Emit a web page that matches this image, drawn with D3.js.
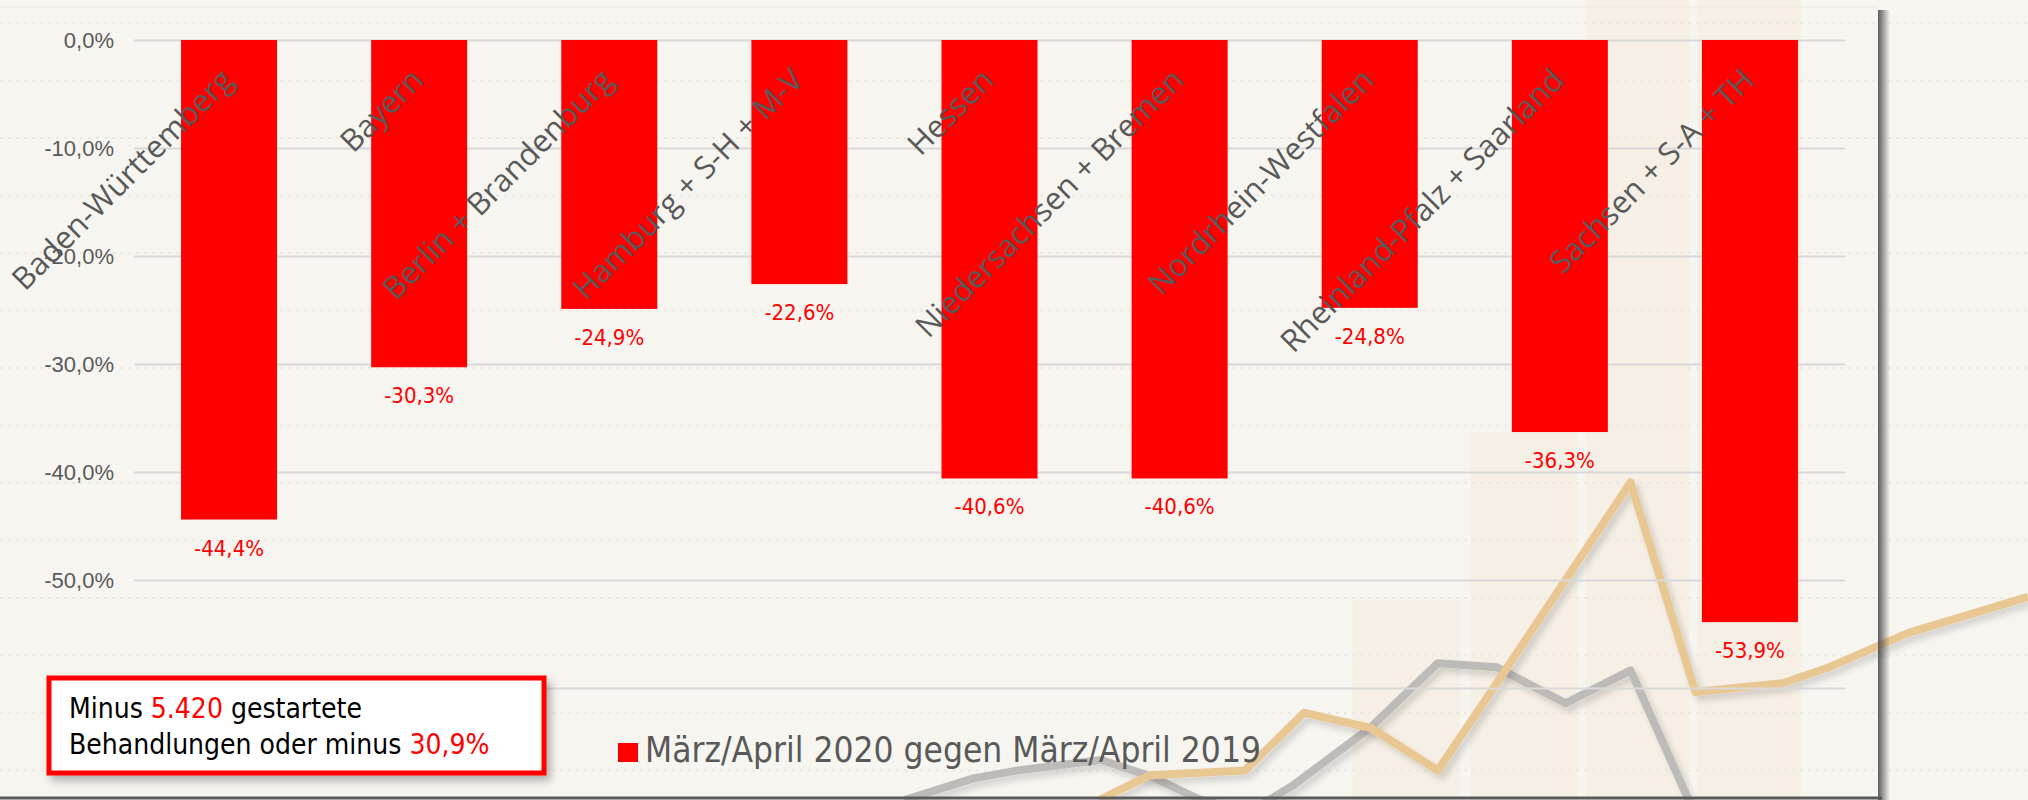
<!DOCTYPE html>
<html>
<head>
<meta charset="utf-8">
<script src="https://cdn.jsdelivr.net/npm/d3@7"></script>
<style>
  body { margin: 0; background: #f6f4ef; }
  svg { display: block; }
</style>
</head>
<body>
<div id="chart"></div>
<script>
// data
var categories = ['Baden-Württemberg', 'Bayern', 'Berlin + Brandenburg', 'Hamburg + S-H + M-V', 'Hessen',
  'Niedersachsen + Bremen', 'Nordrhein-Westfalen', 'Rheinland-Pfalz + Saarland', 'Sachsen + S-A + TH']
var values = [-44.4, -30.3, -24.9, -22.6, -40.6, -40.6, -24.8, -36.3, -53.9]
var gridValues = [0, -10, -20, -30, -40, -50, -60]
var tickLabels = [0, -10, -20, -30, -40, -50]
var seriesName = 'März/April 2020 gegen März/April 2019'
var noteLine1 = [['Minus ', false], ['5.420', true], [' gestartete', false]]
var noteLine2 = [['Behandlungen oder minus ', false], ['30,9%', true]]

// faded background picture (percent of width / height)
var decoColumns = [[66.7, 72.0, 75], [72.5, 77.8, 54], [78.2, 83.3, 0], [83.7, 88.8, 0]]
var decoOrange = [[54.2, 100], [56.7, 96.9], [61.4, 96.3], [64.3, 89.1], [67.6, 91], [70.9, 96.3], [73.8, 85.4],
  [80.4, 60.3], [83.6, 86.5], [87.9, 85.4], [90.2, 83.4], [94.1, 79.1], [100, 74.6]]
var decoGray = [[44.6, 100], [48, 97.3], [50.2, 96.3], [54.3, 95], [56.8, 97.1], [59.2, 100], [61.6, 101.5],
  [63.8, 98.1], [67.6, 90.9], [70.9, 82.9], [73.8, 83.4], [77.2, 87.9], [80.4, 83.8], [83.5, 101.3]]

var W = 2028, H = 800
var margin = { top: 40, left: 134, right: 183, bottom: 112 }
var red = '#ff0000'
var grey = '#595959'

var locale = d3.formatLocale({ decimal: ',', thousands: '.', grouping: [3], currency: ['', ' €'], minus: '-' })
var fmt = locale.format('.1f')

var svg = d3.select('#chart').append('svg')
  .attr('width', W)
  .attr('height', H)

var defs = svg.append('defs')
var blur = defs.append('filter').attr('id', 'soft').attr('x', '-10%').attr('y', '-10%').attr('width', '130%').attr('height', '130%')
blur.append('feDropShadow').attr('dx', 4).attr('dy', 5).attr('stdDeviation', 3).attr('flood-color', '#000').attr('flood-opacity', 0.15)

var shadeX = defs.append('linearGradient').attr('id', 'shadeX')
shadeX.append('stop').attr('offset', '0%').attr('stop-color', '#4a4a4a').attr('stop-opacity', 0.9)
shadeX.append('stop').attr('offset', '100%').attr('stop-color', '#4a4a4a').attr('stop-opacity', 0)

var boxShadow = defs.append('filter').attr('id', 'boxshadow').attr('x', '-5%').attr('y', '-10%').attr('width', '115%').attr('height', '130%')
boxShadow.append('feDropShadow').attr('dx', 4).attr('dy', 5).attr('stdDeviation', 4).attr('flood-color', '#000').attr('flood-opacity', 0.3)

// background
svg.append('rect').attr('width', W).attr('height', H).attr('fill', '#f7f5f0')

var px = d3.scaleLinear().domain([0, 100]).range([0, W])
var py = d3.scaleLinear().domain([0, 100]).range([0, H])

svg.append('g').selectAll('rect')
  .data(decoColumns)
  .enter().append('rect')
  .attr('x', function(d) { return px(d[0]) })
  .attr('width', function(d) { return px(d[1]) - px(d[0]) })
  .attr('y', function(d) { return py(d[2]) })
  .attr('height', function(d) { return H - py(d[2]) })
  .attr('fill', '#f5efe5')

// faint dotted lines of the background
svg.append('g').selectAll('line')
  .data(d3.range(0, 14))
  .enter().append('line')
  .attr('x1', 0).attr('x2', W)
  .attr('y1', function(d) { return 23 + d * 57.5 })
  .attr('y2', function(d) { return 23 + d * 57.5 })
  .attr('stroke', '#ebe8e2')
  .attr('stroke-width', 2)
  .attr('stroke-dasharray', '3,5')

var decoLine = d3.line()
  .x(function(d) { return px(d[0]) })
  .y(function(d) { return py(d[1]) })

svg.append('path')
  .attr('d', decoLine(decoGray))
  .attr('fill', 'none')
  .attr('stroke', '#bdbbb7')
  .attr('stroke-width', 8)
  .attr('stroke-linejoin', 'round')
  .attr('filter', 'url(#soft)')

svg.append('path')
  .attr('d', decoLine(decoOrange))
  .attr('fill', 'none')
  .attr('stroke', '#e9c793')
  .attr('stroke-width', 8)
  .attr('stroke-linejoin', 'round')
  .attr('filter', 'url(#soft)')

// panel edge with shadow
svg.append('rect').attr('x', 1878).attr('y', 10).attr('width', 12).attr('height', H).attr('fill', 'url(#shadeX)')
svg.append('line').attr('x1', 0).attr('x2', 1882).attr('y1', 798).attr('y2', 798)
  .attr('stroke', '#5a5a5a').attr('stroke-width', 3)
svg.append('line').attr('x1', 0).attr('x2', 1878).attr('y1', 7).attr('y2', 7)
  .attr('stroke', '#ebe8e2').attr('stroke-width', 1)

// scales
var x = d3.scaleBand()
  .domain(categories)
  .range([margin.left, W - margin.right])
  .paddingInner(0.495)
  .paddingOuter(0.2475)

var y = d3.scaleLinear()
  .domain([-60, 0])
  .range([688, margin.top])

// grid lines
svg.append('g')
  .attr('class', 'grid')
  .attr('transform', 'translate(' + margin.left + ',0)')
  .call(d3.axisLeft(y)
    .tickValues(gridValues)
    .tickSize(-(W - margin.left - margin.right))
    .tickFormat(''))
  .call(function(g) { g.select('.domain').remove() })
  .call(function(g) { g.selectAll('line').attr('stroke', '#d9d9d9').attr('stroke-width', 2) })

// y axis labels
svg.append('g')
  .attr('class', 'y-axis')
  .attr('transform', 'translate(114,0)')
  .call(d3.axisLeft(y)
    .tickValues(tickLabels)
    .tickSize(0)
    .tickPadding(0)
    .tickFormat(function(d) { return fmt(d) + '%' }))
  .call(function(g) { g.select('.domain').remove() })
  .call(function(g) {
    g.selectAll('text')
      .attr('fill', grey)
      .style('font-family', '"Liberation Sans", Arial, sans-serif')
      .style('font-size', '22px')
  })

// bars
svg.selectAll('.bars')
  .data(values)
  .enter().append('rect')
  .attr('class', 'bars')
  .attr('x', function(d, i) { return x(categories[i]) })
  .attr('width', x.bandwidth())
  .attr('y', y(0))
  .attr('height', function(d) { return y(d) - y(0) })
  .attr('fill', red)

// value labels
svg.selectAll('.vlabel')
  .data(values)
  .enter().append('text')
  .attr('class', 'vlabel')
  .attr('x', function(d, i) { return x(categories[i]) + x.bandwidth() / 2 })
  .attr('y', function(d) { return y(d) + 36 })
  .attr('text-anchor', 'middle')
  .attr('fill', red)
  .style('font-family', '"DejaVu Sans Condensed", sans-serif')
  .style('font-size', '22px')
  .text(function(d) { return fmt(d) + '%' })

// category labels, rotated, on top of the bars
svg.selectAll('.clabel')
  .data(categories)
  .enter().append('text')
  .attr('class', 'clabel')
  .attr('transform', function(d) {
    return 'translate(' + (x(d) + x.bandwidth() / 2 + 6) + ',82) rotate(-45)'
  })
  .attr('text-anchor', 'end')
  .attr('fill', grey)
  .style('font-family', '"Open Sans", sans-serif')
  .style('font-size', '31px')
  .text(function(d) { return d })

// legend
var legend = svg.append('g').attr('transform', 'translate(618,743)')
legend.append('rect').attr('width', 20).attr('height', 19).attr('fill', red)
legend.append('text')
  .attr('x', 27)
  .attr('y', 19)
  .attr('fill', grey)
  .style('font-family', '"DejaVu Sans Condensed", sans-serif')
  .style('font-size', '35px')
  .text(seriesName)

// note box
var note = svg.append('g')
note.append('rect')
  .attr('x', 49).attr('y', 678)
  .attr('width', 495).attr('height', 95)
  .attr('fill', '#ffffff')
  .attr('stroke', red)
  .attr('stroke-width', 5)
  .attr('filter', 'url(#boxshadow)')

function noteText(parts, yPos) {
  var t = note.append('text')
    .attr('x', 69)
    .attr('y', yPos)
    .style('font-family', '"DejaVu Sans Condensed", sans-serif')
    .style('font-size', '28px')
  parts.forEach(function(p) {
    t.append('tspan').attr('fill', p[1] ? red : '#000').text(p[0])
  })
}
noteText(noteLine1, 718)
noteText(noteLine2, 754)
</script>
</body>
</html>
